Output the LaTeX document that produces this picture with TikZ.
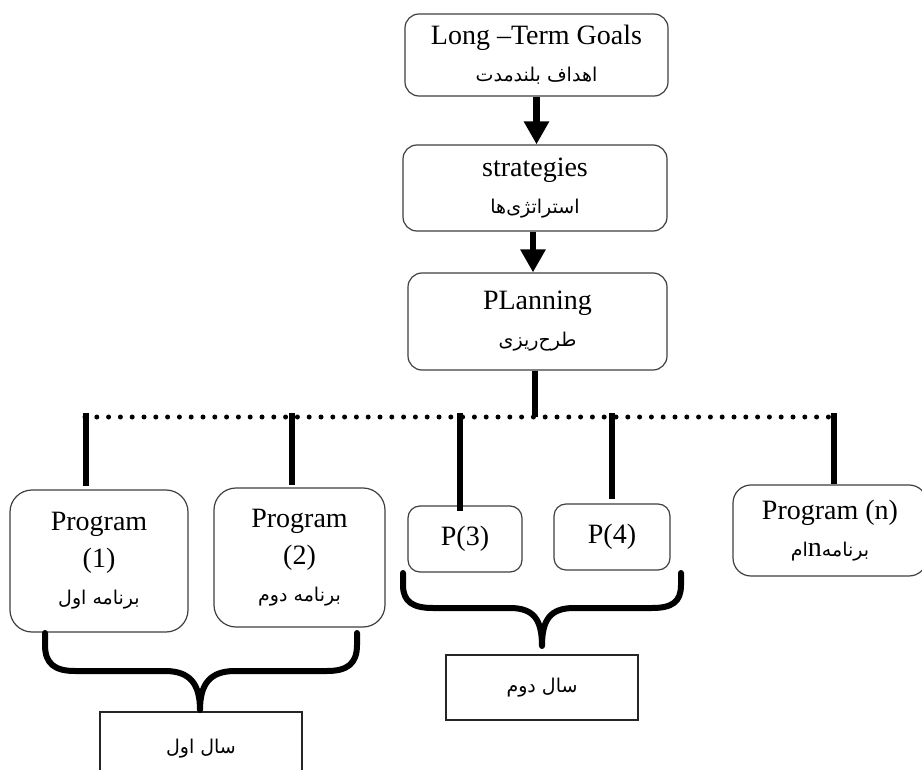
\documentclass[tikz,border=0pt]{standalone}
\usepackage{fontspec}
\setmainfont{Liberation Serif}
\newfontfamily\fa[Script=Arabic]{DejaVu Sans}
\TeXXeTstate=1
\usetikzlibrary{arrows.meta}
\newcommand{\fat}[1]{{\fa\fontsize{19}{22}\selectfont\beginR #1\endR}}
\begin{document}
\begin{tikzpicture}[x=1pt,y=-1pt,
  box/.style={draw=black!75, line width=1.2pt, align=center, inner sep=0pt,
    font=\fontsize{28}{37}\selectfont},
  topbox/.style={box, rounded corners=14pt},
  progbox/.style={box, rounded corners=22pt},
  pbox/.style={box, rounded corners=12pt},
  yearbox/.style={draw=black!85, line width=1.2pt, inner sep=0pt, align=center},
  arr/.style={line width=6.5pt, -{Triangle[width=24pt,length=23pt]}},
  vline/.style={line width=6pt},
  dotline/.style={line width=5pt, line cap=round, dash pattern=on 0pt off 11.8pt},
  brace/.style={line width=6pt, line join=round, line cap=round}]
\useasboundingbox (0,0) rectangle (922,770);
\fill[white] (0,0) rectangle (922,770);

% main chain
\node[topbox, minimum width=263pt, minimum height=82pt] (goals) at (536.5,55)
  {Long –Term Goals\\\fat{اهداف بلندمدت}};
\node[topbox, minimum width=264pt, minimum height=86pt] (strat) at (535,188)
  {strategies\\\fat{استراتژی‌ها}};
\node[topbox, minimum width=259pt, minimum height=97pt] (plan) at (537.5,321.5)
  {PLanning\\\fat{طرح‌ریزی}};

\draw[arr] (goals.south) -- (goals.south |- strat.north);
\draw[arr] ([xshift=-2pt]strat.south) -- ([xshift=-2pt]strat.south |- plan.north);

% dotted distribution line
\coordinate (dl) at (85,417);
\coordinate (dr) at (830,417);
\draw[dotline] (dl) -- (dr);
\draw[vline] ([xshift=-2.5pt]plan.south) -- ([xshift=-2.5pt]plan.south |- dl);

% program boxes
\node[progbox, minimum width=178pt, minimum height=142pt] (p1) at (99,561)
  {Program\\(1)\\\fat{برنامه اول}};
\node[progbox, minimum width=171pt, minimum height=139pt] (p2) at (299.5,557.5)
  {Program\\(2)\\\fat{برنامه دوم}};
\node[pbox, minimum width=114pt, minimum height=66pt] (p3) at (465,539)
  {P(3)};
\node[pbox, minimum width=116pt, minimum height=66pt] (p4) at (612,537)
  {P(4)};
\node[progbox, rounded corners=18pt, minimum width=194pt, minimum height=91pt] (pn) at (830,530.5)
  {Program (n)\\\fat{برنامه{\fontsize{28}{28}\rmfamily n}ام}};

% drops from the dotted line
\coordinate (t1) at (86,413);
\coordinate (t2) at (292,413);
\coordinate (t3) at (460,413);
\coordinate (t4) at (612,413);
\coordinate (t5) at (834,413);
\draw[vline] (t1) -- ([yshift=3pt]t1 |- p1.north);
\draw[vline] (t2) -- ([yshift=2pt]t2 |- p2.north);
\draw[vline] (t3) -- ([yshift=-6pt]t3 |- p3.north);
\draw[vline] (t4) -- ([yshift=4pt]t4 |- p4.north);
\draw[vline] (t5) -- (t5 |- pn.north);

% year boxes
\node[yearbox, minimum width=202pt, minimum height=74pt] (y1) at (201,749)
  {\fat{سال اول}};
\node[yearbox, minimum width=192pt, minimum height=65pt] (y2) at (542,687.5)
  {\fat{سال دوم}};

% braces
\draw[brace] (45,633) -- (45,645) .. controls (45,664) and (55,671) .. (75,671)
  -- (165,671) .. controls (190,671) and (200,684) .. (200,710)
  .. controls (200,684) and (210,671) .. (235,671)
  -- (327,671) .. controls (347,671) and (357,664) .. (357,645) -- (357,633);
\draw[brace] (403,573) -- (403,585) .. controls (403,602) and (413,608) .. (433,608)
  -- (510,608) .. controls (534,608) and (542,620) .. (542,646)
  .. controls (542,620) and (550,608) .. (574,608)
  -- (652,608) .. controls (672,608) and (681,602) .. (681,585) -- (681,573);
\end{tikzpicture}
\end{document}
